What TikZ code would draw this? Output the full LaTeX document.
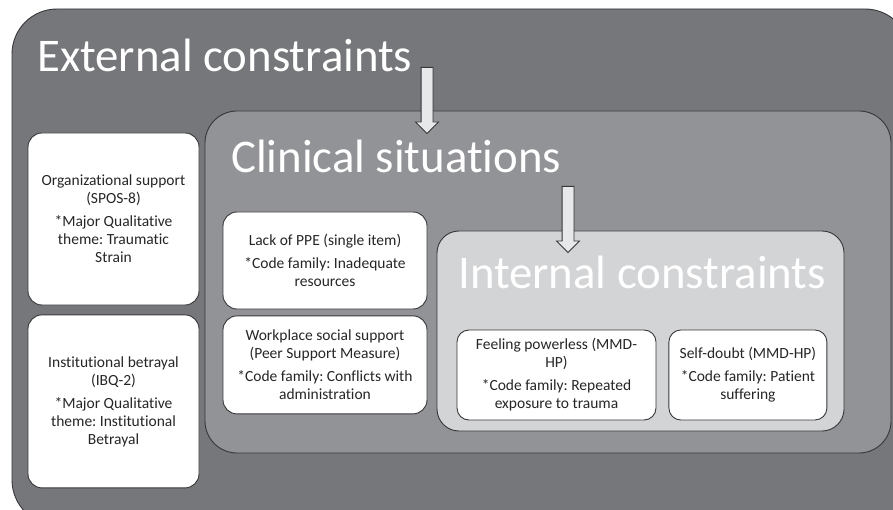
\documentclass[tikz,border=0pt]{standalone}
\usepackage{fontspec}
\setmainfont{Carlito}[RawFeature={-liga;-clig}]
\usepackage{xcolor}
\usetikzlibrary{shapes,shapes.arrows,positioning}
\frenchspacing
\definecolor{outergray}{RGB}{118,119,123}
\definecolor{midgray}{RGB}{146,147,151}
\definecolor{innergray}{RGB}{211,212,214}
\definecolor{arrowgray}{RGB}{231,232,233}
\definecolor{edgegray}{RGB}{55,55,58}
\definecolor{textgray}{RGB}{38,38,38}

\begin{document}
\begin{tikzpicture}[x=1pt,y=-1pt]
	\tikzstyle{frame}=[draw=edgegray,line width=0.9pt]
	\tikzstyle{title}=[white,anchor=base west,inner sep=0pt,font=\fontsize{46.8}{50}\selectfont]
	\tikzstyle{measure}=[frame,fill=white,rounded corners=14pt,align=center,inner sep=0pt,text=textgray,font=\fontsize{15.5}{18}\selectfont]
	\tikzstyle{blockarrow}=[single arrow,frame,fill=arrowgray,inner sep=5.5pt,single arrow head extend=5.5pt,minimum height=66pt,rotate=-90,anchor=tail]

	\useasboundingbox (0,0) rectangle (893,510);
	\clip (0,0) rectangle (893,510);
	\fill[white] (0,0) rectangle (893,510);

	%% Nested frames
	\draw[frame,fill=outergray,rounded corners=45pt] (12,9) rectangle (910,525);
	\draw[frame,fill=midgray,rounded corners=32pt] (205,111) rectangle (891,453);
	\draw[frame,fill=innergray,rounded corners=22pt] (437,231) rectangle (844,431);

	%% Titles
	\node[title] (extitle) at (37,72) {External constraints};
	\node[title] (cltitle) at (231,173) {Clinical situations};
	\node[title] (intitle) at (458,288) {Internal constraints};

	%% Arrows between levels
	\node[blockarrow] (arrowa) at (427,67) {};
	\node[blockarrow] (arrowb) at (568,186) {};

	%% External measures
	\node[measure,minimum width=171pt,minimum height=172pt] (orgsupport) at (113.5,219)
		{Organizational support\\(SPOS-8)\\[5pt]*Major Qualitative\\theme: Traumatic\\Strain};
	\node[measure,minimum width=171pt,minimum height=173pt,below=9pt of orgsupport] (betrayal)
		{Institutional betrayal\\(IBQ-2)\\[5pt]*Major Qualitative\\theme: Institutional\\Betrayal};

	%% Clinical measures
	\node[measure,minimum width=204pt,minimum height=97pt] (ppe) at (325,260.5)
		{Lack of PPE (single item)\\[5pt]*Code family: Inadequate\\resources};
	\node[measure,minimum width=204pt,minimum height=98pt,below=6pt of ppe] (socialsupport)
		{Workplace social support\\(Peer Support Measure)\\[5pt]*Code family: Conflicts with\\administration};

	%% Internal measures
	\node[measure,rounded corners=12pt,minimum width=199pt,minimum height=90pt] (powerless) at (556.5,375)
		{Feeling powerless (MMD-\\HP)\\[5pt]*Code family: Repeated\\exposure to trauma};
	\node[measure,rounded corners=12pt,minimum width=158pt,minimum height=90pt,right=12pt of powerless] (selfdoubt)
		{Self-doubt (MMD-HP)\\[5pt]*Code family: Patient\\suffering};
\end{tikzpicture}
\end{document}
